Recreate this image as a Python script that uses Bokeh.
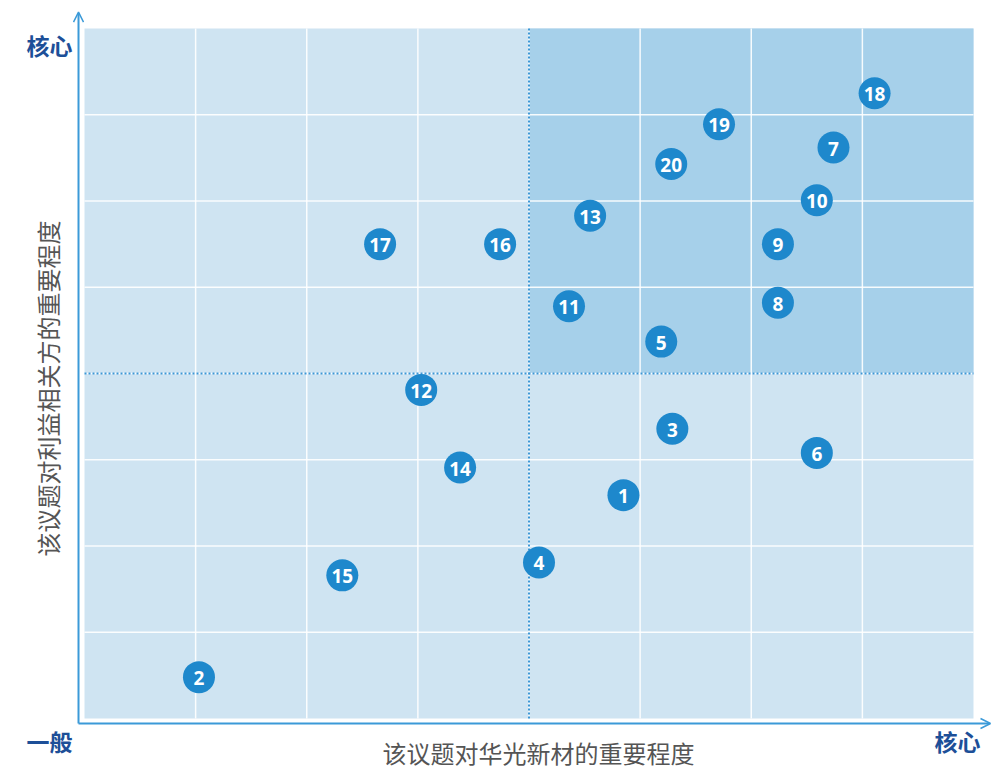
from bokeh.plotting import figure
from bokeh.models import Range1d, Arrow, OpenHead, ColumnDataSource
from bokeh.core.properties import value
from bokeh.embed import file_html
from bokeh.resources import INLINE

# Data
ids = [str(i) for i in range(1, 21)]
x_vals = [4.85, 1.03, 5.29, 4.09, 5.19, 6.59, 6.74, 6.24, 6.24, 6.59,
          4.36, 3.03, 4.55, 3.38, 2.32, 3.74, 2.66, 7.11, 5.71, 5.28]
y_vals = [2.59, 0.48, 3.36, 1.81, 4.37, 3.08, 6.62, 4.82, 5.50, 6.01,
          4.78, 3.81, 5.83, 2.91, 1.66, 5.50, 5.50, 7.25, 6.89, 6.43]
x_title = "该议题对华光新材的重要程度"
y_title = "该议题对利益相关方的重要程度"
low_label = "一般"
high_label = "核心"
grid_max = 8
split = 4

W, H = 1000, 769
p = figure(width=W, height=H, output_backend="svg", toolbar_location=None,
           x_range=Range1d(-0.756, 8.243), y_range=Range1d(-0.591, 8.325),
           min_border=0, outline_line_color=None)
p.axis.visible = False
p.grid.visible = False
p.background_fill_color = "white"

# background
p.quad(left=[0], right=[grid_max], bottom=[0], top=[grid_max],
       fill_color="#cfe4f2", line_color=None)
p.quad(left=[split], right=[grid_max], bottom=[split], top=[grid_max],
       fill_color="#a6d0ea", line_color=None)

# grid lines
gl = [i for i in range(1, grid_max)]
p.segment(x0=gl, y0=[0]*len(gl), x1=gl, y1=[grid_max]*len(gl),
          line_color="white", line_width=1.5, line_alpha=0.9)
p.segment(x0=[0]*len(gl), y0=gl, x1=[grid_max]*len(gl), y1=gl,
          line_color="white", line_width=1.5, line_alpha=0.9)

# dotted split lines
p.segment(x0=[split, 0], y0=[0, split], x1=[split, grid_max], y1=[grid_max, split],
          line_color="#3d97d6", line_width=2, line_dash="2 2")

# axes with arrows
axc = "#3b9ad8"
p.add_layout(Arrow(end=OpenHead(size=10, line_color=axc, line_width=1.5),
                   x_start=-0.054, y_start=-0.058, x_end=-0.054, y_end=8.19,
                   line_color=axc, line_width=2))
p.add_layout(Arrow(end=OpenHead(size=10, line_color=axc, line_width=1.5),
                   x_start=-0.054, y_start=-0.058, x_end=8.153, y_end=-0.058,
                   line_color=axc, line_width=2))

# points
src = ColumnDataSource(dict(x=x_vals, y=y_vals, t=ids))
p.scatter(x="x", y="y", source=src, size=32, fill_color="#1e88cc", line_color=None)
p.text(x="x", y="y", text="t", source=src, text_align="center", text_baseline="middle",
       text_color="white", text_font=value("Noto Sans"), text_font_style="bold",
       text_font_size="19px", y_offset=1)

# labels
lab_c = "#1d4f98"
p.text(x=[-0.108], y=[7.81], text=[high_label], text_align="right", text_baseline="middle",
       text_color=lab_c, text_font=value("Noto Sans CJK SC"), text_font_style="bold",
       text_font_size="23px")
p.text(x=[-0.108], y=[-0.265], text=[low_label], text_align="right", text_baseline="middle",
       text_color=lab_c, text_font=value("Noto Sans CJK SC"), text_font_style="bold",
       text_font_size="23px")
p.text(x=[7.856], y=[-0.265], text=[high_label], text_align="center", text_baseline="middle",
       text_color=lab_c, text_font=value("Noto Sans CJK SC"), text_font_style="bold",
       text_font_size="23px")
p.text(x=[4.085], y=[-0.394], text=[x_title], text_align="center", text_baseline="middle",
       text_color="#555555", text_font=value("Noto Sans CJK SC"), text_font_size="24px")
p.text(x=[-0.333], y=[3.826], text=[y_title], text_align="center", text_baseline="middle",
       text_color="#555555", text_font=value("Noto Sans CJK SC"), text_font_size="24px",
       angle=1.5707963)

open("out.html", "w").write(file_html(p, INLINE))
